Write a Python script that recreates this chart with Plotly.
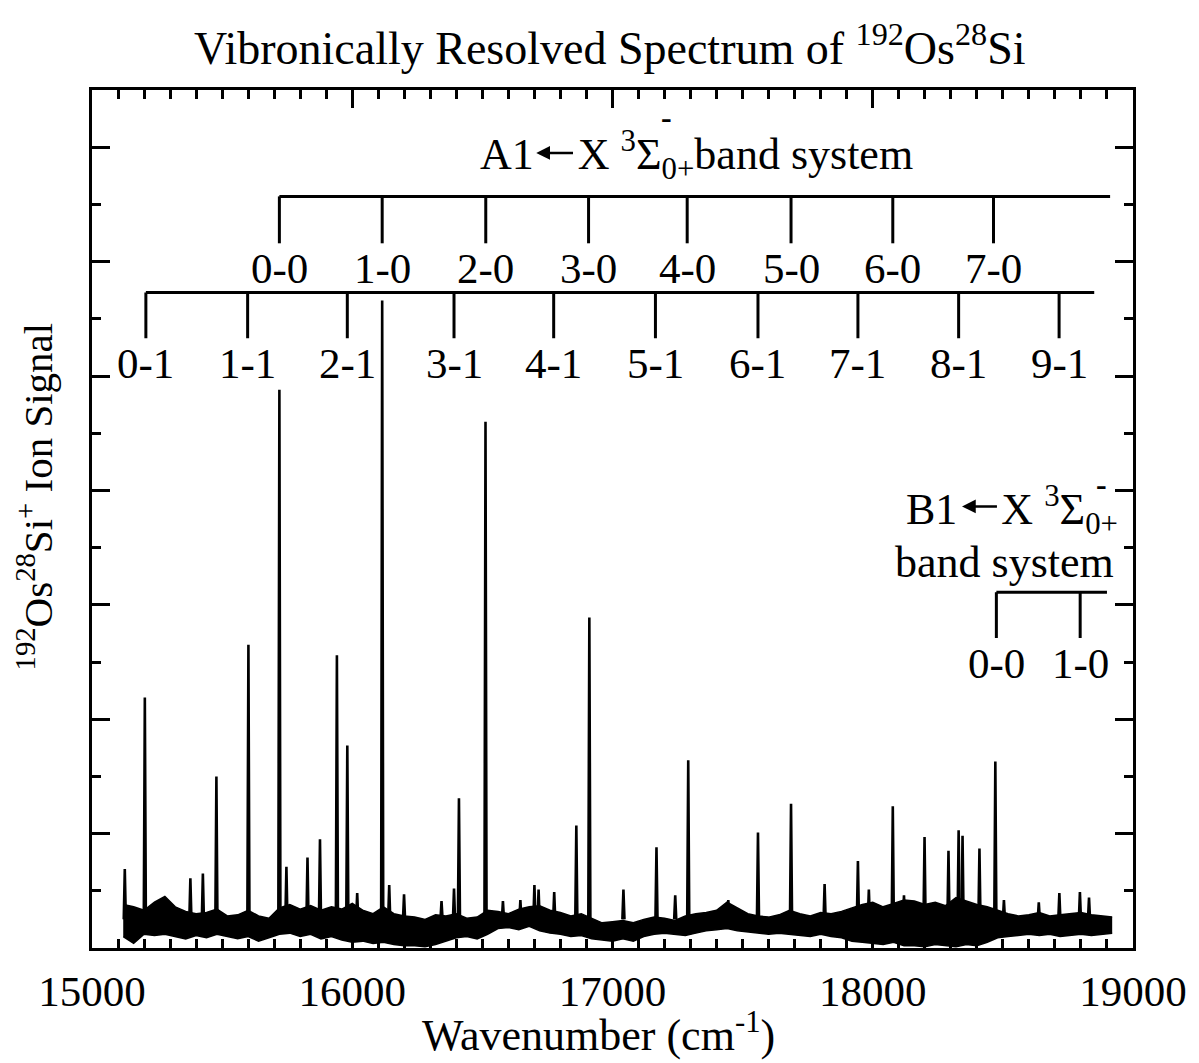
import plotly.graph_objects as go

# ---------------- data ----------------
# noisy baseline envelope, sampled every 40 cm-1 starting at 15120 cm-1
noise_start = 15120
noise_step = 40
noise_upper = [0.38, 0.36, 0.33, 0.40, 0.45, 0.36, 0.32, 0.30, 0.31, 0.34, 0.28, 0.29,
               0.33, 0.28, 0.26, 0.35, 0.38, 0.34, 0.37, 0.33, 0.36, 0.34, 0.39, 0.33,
               0.30, 0.36, 0.30, 0.28, 0.27, 0.25, 0.29, 0.28, 0.30, 0.26, 0.27, 0.33,
               0.32, 0.30, 0.34, 0.36, 0.37, 0.33, 0.31, 0.28, 0.30, 0.26, 0.22, 0.23,
               0.24, 0.22, 0.25, 0.27, 0.26, 0.24, 0.28, 0.30, 0.31, 0.33, 0.40, 0.35,
               0.30, 0.28, 0.27, 0.29, 0.33, 0.30, 0.28, 0.31, 0.30, 0.32, 0.35, 0.38,
               0.40, 0.36, 0.39, 0.42, 0.41, 0.38, 0.40, 0.37, 0.44, 0.41, 0.38, 0.36,
               0.33, 0.30, 0.28, 0.29, 0.31, 0.28, 0.29, 0.30, 0.31, 0.29, 0.28, 0.27]
noise_lower = [0.10, 0.04, 0.12, 0.11, 0.12, 0.10, 0.08, 0.11, 0.09, 0.12, 0.10, 0.08,
               0.10, 0.06, 0.09, 0.12, 0.13, 0.10, 0.12, 0.08, 0.10, 0.07, 0.05, 0.06,
               0.04, 0.05, 0.03, 0.02, 0.02, 0.01, 0.03, 0.06, 0.09, 0.10, 0.08, 0.12,
               0.17, 0.18, 0.16, 0.19, 0.15, 0.13, 0.12, 0.10, 0.11, 0.08, 0.07, 0.06,
               0.08, 0.06, 0.10, 0.12, 0.13, 0.12, 0.11, 0.13, 0.15, 0.16, 0.17, 0.15,
               0.14, 0.13, 0.12, 0.13, 0.12, 0.11, 0.10, 0.12, 0.10, 0.09, 0.06, 0.05,
               0.04, 0.03, 0.05, 0.02, 0.02, 0.01, 0.03, 0.02, 0.01, 0.03, 0.02, 0.05,
               0.09, 0.10, 0.11, 0.12, 0.11, 0.12, 0.10, 0.11, 0.12, 0.11, 0.12, 0.13]

# resolved lines: position (cm-1) and height (signal units)
peak_wn = [15126, 15203, 15378, 15426, 15478, 15601, 15720, 15747, 15828, 15876,
           15941, 15981, 16019, 16115, 16142, 16199, 16343, 16391, 16410, 16512,
           16579, 16646, 16700, 16716, 16776, 16861, 16911, 17042, 17169, 17241,
           17291, 17445, 17559, 17686, 17815, 17943, 17985, 18077, 18120, 18199,
           18291, 18330, 18345, 18410, 18471, 18504, 18638, 18717, 18796, 18831]
peak_height = [0.69, 2.19, 0.61, 0.65, 1.50, 2.65, 4.88, 0.71, 0.79, 0.95,
               2.56, 1.77, 0.48, 5.66, 0.55, 0.47, 0.41, 0.52, 1.31, 4.60,
               0.41, 0.42, 0.55, 0.51, 0.49, 1.07, 2.89, 0.51, 0.88, 0.46,
               1.64, 0.42, 1.01, 1.26, 0.56, 0.76, 0.51, 1.24, 0.46, 0.97,
               0.85, 1.03, 0.98, 0.87, 1.63, 0.42, 0.40, 0.48, 0.49, 0.44]

# band assignments
a1_v0_labels = ["0-0", "1-0", "2-0", "3-0", "4-0", "5-0", "6-0", "7-0"]
a1_v0_wn = [15720, 16115, 16513, 16908, 17287, 17686, 18077, 18464]
a1_v1_labels = ["0-1", "1-1", "2-1", "3-1", "4-1", "5-1", "6-1", "7-1", "8-1", "9-1"]
a1_v1_wn = [15207, 15598, 15981, 16391, 16774, 17165, 17559, 17943, 18330, 18716]
b1_labels = ["0-0", "1-0"]
b1_wn = [18475, 18797]

x_range = [15000, 19000]
y_range = [0, 7.5]

# ---------------- figure ----------------
FONT = "Liberation Serif, Times New Roman, serif"
BLACK = "#000000"
NB = "\u00a0"

noise_wn = [noise_start + noise_step * i for i in range(len(noise_upper))]

fig = go.Figure()
fig.add_trace(go.Scatter(x=noise_wn, y=noise_lower, mode="lines",
                         line=dict(color=BLACK, width=1.5), hoverinfo="skip"))
fig.add_trace(go.Scatter(x=noise_wn, y=noise_upper, mode="lines", fill="tonexty",
                         fillcolor=BLACK, line=dict(color=BLACK, width=1.5),
                         hoverinfo="skip"))

px_, py_ = [], []
for w, h in zip(peak_wn, peak_height):
    px_ += [w - 4, w, w + 4, None]
    py_ += [0.25, h, 0.25, None]
fig.add_trace(go.Scatter(x=px_, y=py_, mode="lines",
                         line=dict(color=BLACK, width=2.6), hoverinfo="skip"))


def comb(positions, bar_end, y_bar, y_tick):
    xs = [positions[0], bar_end, None]
    ys = [y_bar, y_bar, None]
    for p in positions:
        xs += [p, p, None]
        ys += [y_bar, y_tick, None]
    return xs, ys


for pos, end, yb, yt in [(a1_v0_wn, 18912, 6.57, 6.16),
                         (a1_v1_wn, 18851, 5.73, 5.33),
                         (b1_wn, 18900, 3.11, 2.71)]:
    xs, ys = comb(pos, end, yb, yt)
    fig.add_trace(go.Scatter(x=xs, y=ys, mode="lines",
                             line=dict(color=BLACK, width=3), hoverinfo="skip"))

ann = []
for lab, w in zip(a1_v0_labels, a1_v0_wn):
    ann.append(dict(x=w, y=5.94, text=lab, showarrow=False, font=dict(size=43)))
for lab, w in zip(a1_v1_labels, a1_v1_wn):
    ann.append(dict(x=w, y=5.11, text=lab, showarrow=False, font=dict(size=43)))
for lab, w in zip(b1_labels, b1_wn):
    ann.append(dict(x=w, y=2.49, text=lab, showarrow=False, font=dict(size=43)))

# A1 header (arrow drawn separately in the gap)
ann.append(dict(x=17322, y=6.93, xanchor="center", yanchor="middle",
                text="A1" + NB * 4 + "X <sup>3</sup>Σ<sub>0+</sub>band system",
                showarrow=False, font=dict(size=44)))
ann.append(dict(x=16707, y=6.95, ax=16854, ay=6.95, axref="x", ayref="y",
                text="", showarrow=True, arrowhead=2, arrowsize=1.1,
                arrowwidth=2.5, arrowcolor=BLACK))
ann.append(dict(x=17207, y=7.26, text="<b>-</b>", showarrow=False,
                font=dict(size=32)))

# B1 header
ann.append(dict(x=18950, y=3.83, xanchor="right", yanchor="middle",
                text="B1" + NB * 4 + "X <sup>3</sup>Σ<sub>0+</sub>",
                showarrow=False, font=dict(size=44)))
ann.append(dict(x=18343, y=3.86, ax=18483, ay=3.86, axref="x", ayref="y",
                text="", showarrow=True, arrowhead=2, arrowsize=1.1,
                arrowwidth=2.5, arrowcolor=BLACK))
ann.append(dict(x=18880, y=4.06, text="<b>-</b>", showarrow=False,
                font=dict(size=32)))
ann.append(dict(x=18935, y=3.37, xanchor="right", yanchor="middle",
                text="band system", showarrow=False, font=dict(size=44)))

# titles as paper annotations
ann.append(dict(xref="paper", yref="paper", x=0.498, y=1.052,
                xanchor="center", yanchor="middle",
                text="Vibronically Resolved Spectrum of <sup>192</sup>Os<sup>28</sup>Si",
                showarrow=False, font=dict(size=46)))
ann.append(dict(xref="paper", yref="paper", x=0.487, y=-0.099,
                xanchor="center", yanchor="middle",
                text="Wavenumber (cm<sup>-1</sup>)", showarrow=False,
                font=dict(size=44)))
ann.append(dict(xref="paper", yref="paper", x=-0.055, y=0.526, textangle=-90,
                xanchor="center", yanchor="middle",
                text="<sup>192</sup>Os<sup>28</sup>Si<sup>+</sup> Ion Signal",
                showarrow=False, font=dict(size=41)))

fig.update_layout(
    width=1199, height=1063, autosize=False,
    margin=dict(l=92, r=63, t=90, b=115),
    paper_bgcolor="white", plot_bgcolor="white",
    showlegend=False,
    font=dict(family=FONT, color=BLACK, size=43),
    annotations=ann,
)
fig.update_xaxes(range=x_range, showgrid=False, zeroline=False,
                 showline=True, linewidth=3, linecolor=BLACK, mirror="ticks",
                 ticks="inside", ticklen=18, tickwidth=2.5, tickcolor=BLACK,
                 dtick=1000, tick0=15000, tickformat="d",
                 tickfont=dict(size=43, family=FONT), ticklabelstandoff=3,
                 minor=dict(ticks="inside", ticklen=9, tickwidth=2.5,
                            tickcolor=BLACK, dtick=100, showgrid=False))
fig.update_yaxes(range=y_range, showgrid=False, zeroline=False,
                 showline=True, linewidth=3, linecolor=BLACK, mirror="ticks",
                 ticks="inside", ticklen=18, tickwidth=2.5, tickcolor=BLACK,
                 dtick=1, tick0=0, showticklabels=False,
                 minor=dict(ticks="inside", ticklen=9, tickwidth=2.5,
                            tickcolor=BLACK, dtick=0.5, showgrid=False))

fig.write_html("out.html")
